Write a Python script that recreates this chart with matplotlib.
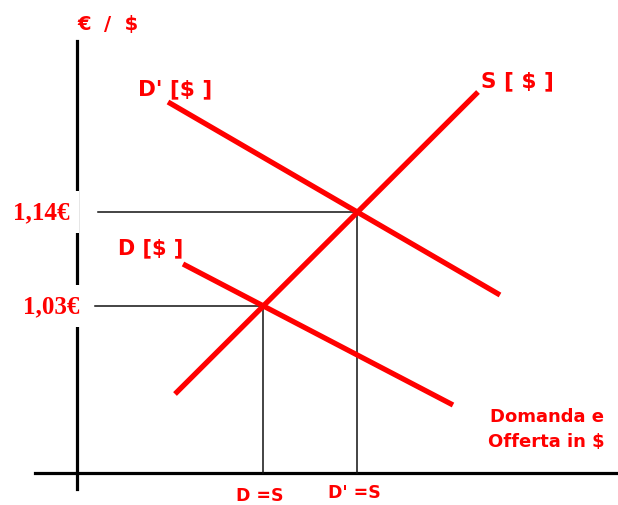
import numpy as np
import matplotlib.pyplot as plt

# Kurven (Endpunkte, Koordinaten in Bildpunkten, y nach oben)
S_x = [175, 478]
S_y = [111, 413]
Dp_x = [168, 500]
Dp_y = [403, 210]
D_x = [183, 453]
D_y = [241, 100]

# Achsen
yachse_x = 77
yachse_y = [16, 464]
xachse_y = 32
xachse_x = [35, 618]

preis_labels = ['1,14€', '1,03€']
menge_labels = ['D =S', "D' =S"]
rot = '#ff0000'


def schnitt(ax1, ay1, bx1, by1):
    # Schnittpunkt von zwei Geraden
    m1 = (ay1[1] - ay1[0]) / (ax1[1] - ax1[0])
    m2 = (by1[1] - by1[0]) / (bx1[1] - bx1[0])
    x = (by1[0] - ay1[0] + m1 * ax1[0] - m2 * bx1[0]) / (m1 - m2)
    y = ay1[0] + m1 * (x - ax1[0])
    return x, y


p1 = schnitt(S_x, S_y, Dp_x, Dp_y)   # D' = S
p0 = schnitt(S_x, S_y, D_x, D_y)     # D = S

fig = plt.figure(figsize=(6.18, 5.06), dpi=100)
ax = fig.add_axes([0, 0, 1, 1])
ax.set_xlim(0, 618)
ax.set_ylim(0, 506)
ax.axis('off')

# Achsen zeichnen
ax.plot([yachse_x, yachse_x], yachse_y, color='black', lw=2.3, zorder=1)
ax.plot(xachse_x, [xachse_y, xachse_y], color='black', lw=2.3, zorder=1)

# Hilfslinien
ax.plot([98, p1[0]], [p1[1], p1[1]], color='#111111', lw=1.1, zorder=2)
ax.plot([p1[0], p1[0]], [p1[1], xachse_y], color='#111111', lw=1.1, zorder=2)
ax.plot([95, p0[0]], [p0[1], p0[1]], color='#111111', lw=1.1, zorder=2)
ax.plot([p0[0], p0[0]], [p0[1], xachse_y], color='#111111', lw=1.1, zorder=2)

# Angebot und Nachfrage
ax.plot(S_x, S_y, color=rot, lw=3.8, solid_capstyle='butt', zorder=3)
ax.plot(Dp_x, Dp_y, color=rot, lw=3.8, solid_capstyle='butt', zorder=3)
ax.plot(D_x, D_y, color=rot, lw=3.8, solid_capstyle='butt', zorder=3)

# Beschriftungen
fk = dict(color=rot, fontweight='bold', family='DejaVu Sans', ha='center', va='center')
ax.text(108, 482, '€  /  $', fontsize=14, **fk)
ax.text(175, 417, "D' [$ ]", fontsize=15.5, **fk)
ax.text(517, 425, 'S [ $ ]', fontsize=15.5, **fk)
ax.text(151, 258, 'D [$ ]', fontsize=15, **fk)
ax.text(p0[0] - 4, 10, menge_labels[0], fontsize=12.5, **fk)
ax.text(p1[0] - 3, 13, menge_labels[1], fontsize=12.5, **fk)
ax.text(490, 89, 'Domanda e', fontsize=13, color=rot, fontweight='bold',
        family='DejaVu Sans', ha='left', va='center')
ax.text(488, 64, 'Offerta in $', fontsize=13, color=rot, fontweight='bold',
        family='DejaVu Sans', ha='left', va='center')

box = dict(facecolor='white', edgecolor='none', pad=7)
ax.text(41, p1[1], preis_labels[0], fontsize=18, color=rot, fontweight='bold',
        family='Liberation Serif', ha='center', va='center', bbox=box, zorder=4)
ax.text(51, p0[1], preis_labels[1], fontsize=18, color=rot, fontweight='bold',
        family='Liberation Serif', ha='center', va='center', bbox=box, zorder=4)

fig.savefig('out.png', dpi=100, facecolor='white')
